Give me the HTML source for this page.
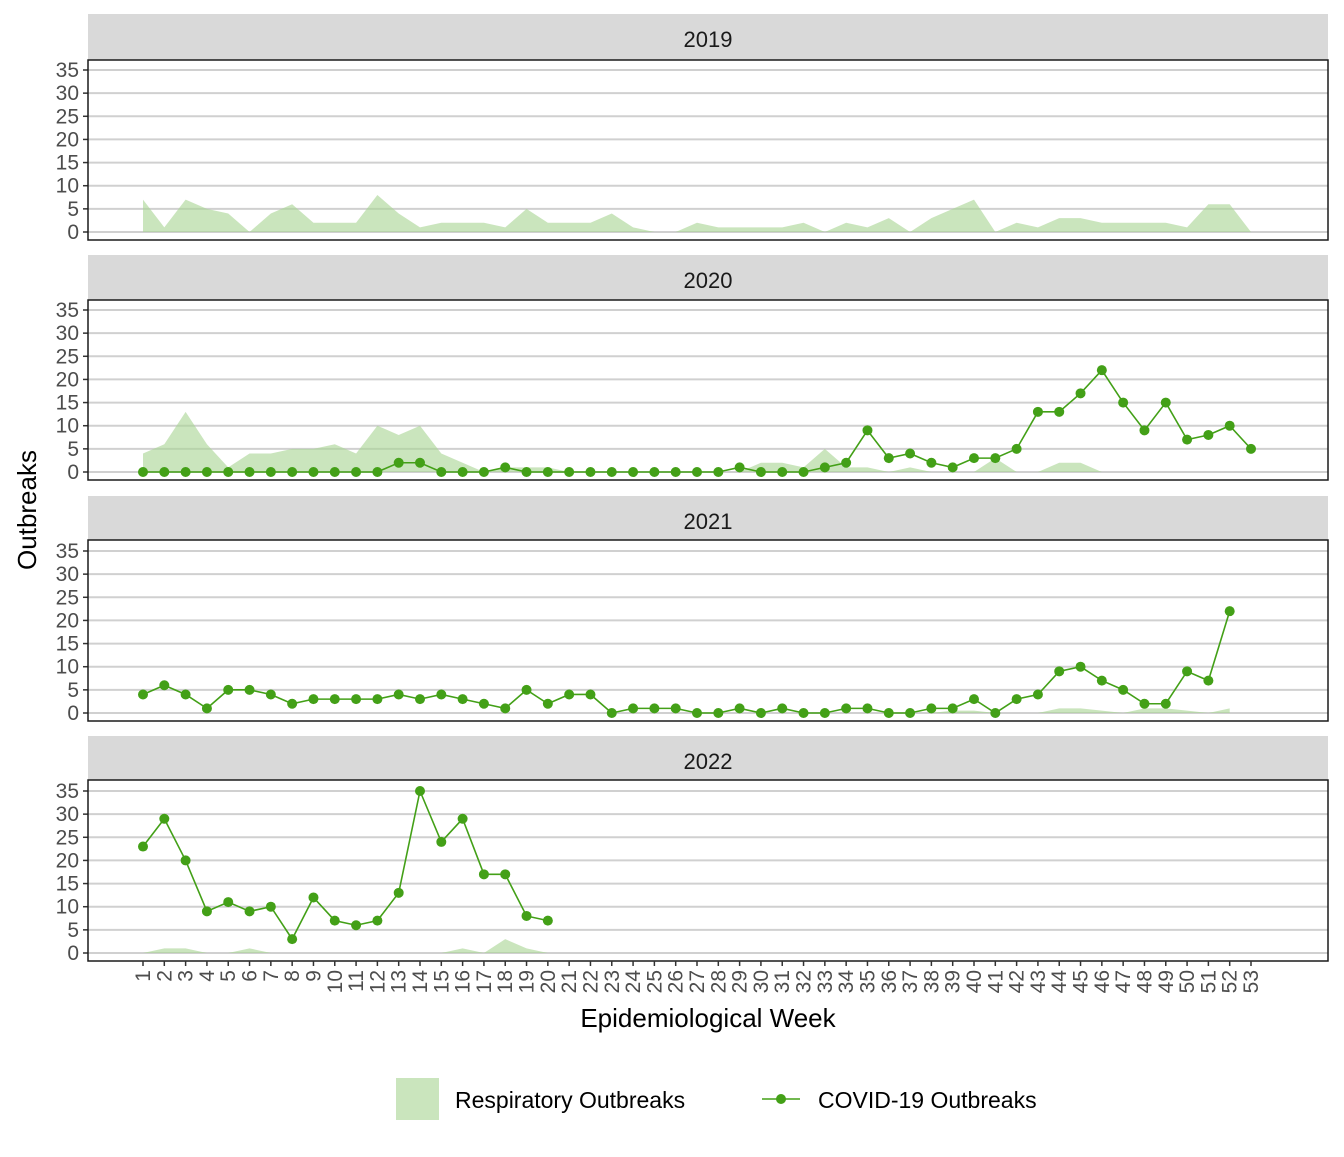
<!DOCTYPE html>
<html><head><meta charset="utf-8"><style>
body{margin:0;background:#fff;font-family:"Liberation Sans",sans-serif}
</style></head><body>
<svg id="chart" width="1344" height="1152" xmlns="http://www.w3.org/2000/svg" font-family="Liberation Sans, sans-serif"></svg>
<script>
const years = ["2019","2020","2021","2022"];
const resp2019 = [7,1,7,5,4,0,4,6,2,2,2,8,4,1,2,2,2,1,5,2,2,2,4,1,0,0,2,1,1,1,1,2,0,2,1,3,0,3,5,7,0,2,1,3,3,2,2,2,2,1,6,6,0];
const resp2020 = [4,6,13,6,1,4,4,5,5,6,4,10,8,10,4,2,0,1,1,1,0,0,0,0,0,0,0,0,0,2,2,1,5,1,1,0,1,0,0,0,3,0,0,2,2,0,0,0,0,0,0,0,0];
const covid2020 = [0,0,0,0,0,0,0,0,0,0,0,0,2,2,0,0,0,1,0,0,0,0,0,0,0,0,0,0,1,0,0,0,1,2,9,3,4,2,1,3,3,5,13,13,17,22,15,9,15,7,8,10,5];
const resp2021 = [0,0,0,0,0,0,0,0,0,0,0,0,0,0,0,0,0,0,0,0,0,0,0,0,0,0,0,0,0,0,0,0,0,0,0,0,0,0,0.5,0.5,0,0,0,1,1,0.5,0,1,1,0.5,0,1];
const covid2021 = [4,6,4,1,5,5,4,2,3,3,3,3,4,3,4,3,2,1,5,2,4,4,0,1,1,1,0,0,1,0,1,0,0,1,1,0,0,1,1,3,0,3,4,9,10,7,5,2,2,9,7,22];
const resp2022 = [0,1,1,0,0,1,0,0,0,0,0,0,0,0,0,1,0,3,1,0];
const covid2022 = [23,29,20,9,11,9,10,3,12,7,6,7,13,35,24,29,17,17,8,7];
const yTicks = [0,5,10,15,20,25,30,35];
const weeks = Array.from({length:53},(_,i)=>i+1);

const NS="http://www.w3.org/2000/svg";
const svg=document.getElementById('chart');
function mk(t,a,p){const e=document.createElementNS(NS,t);for(const k in a)e.setAttribute(k,a[k]);(p||svg).appendChild(e);return e;}
const X0=88,X1=1328;
const xs=w=>143+(w-1)*(1108/52);
const panels=[{strip:14,top:60,zero:232,resp:resp2019,covid:null},
{strip:255,top:300,zero:472,resp:resp2020,covid:covid2020},
{strip:496,top:540,zero:713,resp:resp2021,covid:covid2021},
{strip:736,top:780,zero:953,resp:resp2022,covid:covid2022}];
const per=162/35;
panels.forEach((p,i)=>{
  const g=mk('g',{});
  
  
  const s=mk('rect',{x:X0,y:p.strip,width:X1-X0,height:p.top-p.strip,fill:'#d9d9d9'},g);
  
  
  const st=mk('text',{x:(X0+X1)/2,y:p.strip+33,'text-anchor':'middle','font-size':'22',fill:'#1a1a1a'},g);
  st.textContent=years[i];
  
  
  const ys=v=>p.zero-v*per;
  yTicks.forEach(t=>{
    mk('line',{x1:X0,x2:X1,y1:ys(t),y2:ys(t),stroke:'#d0d0d0','stroke-width':2},g);
    mk('line',{x1:X0-5,x2:X0,y1:ys(t),y2:ys(t),stroke:'#333','stroke-width':1.5},g);
    const tl=mk('text',{x:X0-9,y:ys(t)+7,'text-anchor':'end','font-size':'21',fill:'#4d4d4d'},g);
    tl.textContent=t;
    
    
  });
  let d='M'+xs(1)+','+ys(0);
  p.resp.forEach((v,k)=>{d+=' L'+xs(k+1)+','+ys(v);});
  d+=' L'+xs(p.resp.length)+','+ys(0)+' Z';
  const a=mk('path',{d:d,fill:'#a9d595','fill-opacity':0.62},g);
  
  
  if(p.covid){
    const pts=p.covid.map((v,k)=>xs(k+1)+','+ys(v)).join(' ');
    const l=mk('polyline',{points:pts,fill:'none',stroke:'#43a017','stroke-width':1.6},g);
    
    
    p.covid.forEach((v,k)=>{
      const c=mk('circle',{cx:xs(k+1),cy:ys(v),r:5,fill:'#43a017'},g);
      
      
    });
  }
  mk('rect',{x:X0,y:p.top,width:X1-X0,height:p.zero+8-p.top,fill:'none',stroke:'#1a1a1a','stroke-width':1.5},g);
});
weeks.forEach(w=>{
  mk('line',{x1:xs(w),x2:xs(w),y1:961,y2:966,stroke:'#333','stroke-width':1.5});
  const t=mk('text',{x:0,y:0,transform:'translate('+(xs(w)+7)+',970) rotate(-90)','text-anchor':'end','font-size':'21',fill:'#4d4d4d'});
  t.textContent=w;
  
  
});
const xt=mk('text',{x:708,y:1027,'text-anchor':'middle','font-size':'26',fill:'#000'});
xt.textContent='Epidemiological Week';


const yt=mk('text',{x:0,y:0,transform:'translate(36,510) rotate(-90)','text-anchor':'middle','font-size':'26',fill:'#000'});
yt.textContent='Outbreaks';


const l1=mk('rect',{x:396,y:1078,width:43,height:42,fill:'#a9d595','fill-opacity':0.62});


const lt1=mk('text',{x:455,y:1108,'font-size':'23',fill:'#000'});
lt1.textContent='Respiratory Outbreaks';


const l2=mk('line',{x1:762,x2:800,y1:1099,y2:1099,stroke:'#43a017','stroke-width':1.6});


mk('circle',{cx:781,cy:1099,r:5,fill:'#43a017'});
const lt2=mk('text',{x:818,y:1108,'font-size':'23',fill:'#000'});
lt2.textContent='COVID-19 Outbreaks';


</script>
</body></html>
